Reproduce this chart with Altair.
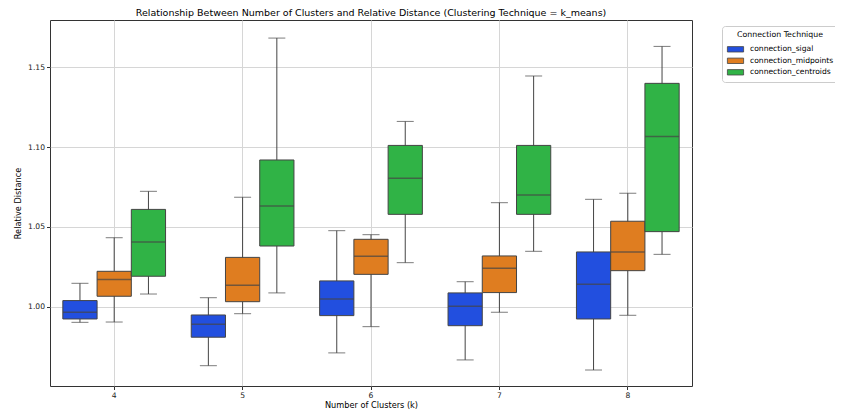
import altair as alt
import pandas as pd

clusters = [4, 5, 6, 7, 8]
techniques = ["connection_sigal", "connection_midpoints", "connection_centroids"]
colors = ["#224fdf", "#df7d20", "#30b346"]

sigal_min = [0.9904, 0.9633, 0.9713, 0.9669, 0.9606]
sigal_q1 = [0.9925, 0.9811, 0.9946, 0.9883, 0.9925]
sigal_med = [0.9967, 0.9892, 1.0050, 1.0004, 1.0142]
sigal_q3 = [1.0040, 0.9950, 1.0163, 1.0088, 1.0344]
sigal_max = [1.0148, 1.0058, 1.0477, 1.0158, 1.0673]

mid_min = [0.9906, 0.9958, 0.9877, 0.9967, 0.9948]
mid_q1 = [1.0067, 1.0033, 1.0204, 1.0090, 1.0227]
mid_med = [1.0171, 1.0136, 1.0317, 1.0242, 1.0344]
mid_q3 = [1.0223, 1.0310, 1.0423, 1.0319, 1.0536]
mid_max = [1.0433, 1.0686, 1.0452, 1.0652, 1.0711]

cen_min = [1.0081, 1.0088, 1.0277, 1.0348, 1.0329]
cen_q1 = [1.0192, 1.0381, 1.0579, 1.0579, 1.0471]
cen_med = [1.0406, 1.0631, 1.0804, 1.0700, 1.1065]
cen_q3 = [1.0610, 1.0919, 1.1010, 1.1010, 1.1398]
cen_max = [1.0723, 1.1681, 1.1160, 1.1444, 1.1629]

stats = {
    "connection_sigal": (sigal_min, sigal_q1, sigal_med, sigal_q3, sigal_max),
    "connection_midpoints": (mid_min, mid_q1, mid_med, mid_q3, mid_max),
    "connection_centroids": (cen_min, cen_q1, cen_med, cen_q3, cen_max),
}

rows = []
for t in techniques:
    mn, q1, md, q3, mx = stats[t]
    for i, k in enumerate(clusters):
        rows.append({"k": str(k), "tech": t, "mn": mn[i], "q1": q1[i],
                     "med": md[i], "q3": q3[i], "mx": mx[i]})
df = pd.DataFrame(rows)

line_col = "#444444"

x = alt.X("k:N", title="Number of Clusters (k)", sort=[str(c) for c in clusters],
          scale=alt.Scale(paddingInner=0.2, paddingOuter=0.1),
          axis=alt.Axis(labelAngle=0, grid=True))
xo = alt.XOffset("tech:N", sort=techniques,
                 scale=alt.Scale(domain=techniques, paddingInner=0, paddingOuter=0))
ysc = alt.Scale(domain=[0.9506, 1.1794], nice=False, zero=False)
yaxis = alt.Axis(values=[1.0, 1.05, 1.10, 1.15], format=".2f", grid=True)

base = alt.Chart(df)

whisk = base.mark_rule(color=line_col, strokeWidth=1).encode(
    x=x, xOffset=xo,
    y=alt.Y("mn:Q", title="Relative Distance", scale=ysc, axis=yaxis),
    y2="mx:Q",
)
cap_lo = base.mark_tick(color=line_col, size=17, thickness=1).encode(
    x=x, xOffset=xo, y=alt.Y("mn:Q", scale=ysc))
cap_hi = base.mark_tick(color=line_col, size=17, thickness=1).encode(
    x=x, xOffset=xo, y=alt.Y("mx:Q", scale=ysc))
box = base.mark_bar(stroke=line_col, strokeWidth=1, opacity=1).encode(
    x=x, xOffset=xo,
    y=alt.Y("q1:Q", scale=ysc), y2="q3:Q",
    color=alt.Color("tech:N", sort=techniques,
                    scale=alt.Scale(domain=techniques, range=colors),
                    legend=alt.Legend(title="Connection Technique")),
)
median = base.mark_tick(color=line_col, size=34, thickness=1.5).encode(
    x=x, xOffset=xo, y=alt.Y("med:Q", scale=ysc))

chart = alt.layer(whisk, cap_lo, cap_hi, box, median).properties(
    width=642, height=366,
    padding={"left": 42, "top": 12, "right": 143, "bottom": 26},
    autosize=alt.AutoSizeParams(type="none"),
    title=alt.Title("Relationship Between Number of Clusters and Relative Distance (Clustering Technique = k_means)",
                    fontSize=9.5, fontWeight="normal", font="DejaVu Sans", color="#000", offset=3),
).configure_view(
    stroke="#333333", strokeWidth=1
).configure_axis(
    domain=False, gridColor="#d6d6d6", gridWidth=1,
    tickColor="#333333", tickSize=3.5, labelFont="DejaVu Sans", labelFontSize=7.6,
    labelColor="#222", titleFont="DejaVu Sans", titleFontSize=8.2, titleFontWeight="normal",
    titleColor="#000", labelPadding=2,
).configure_axisY(titlePadding=5).configure_axisX(titlePadding=2).configure_legend(
    orient="none", legendX=672, legendY=6,
    strokeColor="#cccccc", fillColor="#ffffff", padding=5, cornerRadius=3,
    titleFont="DejaVu Sans", titleFontSize=7.8, titleFontWeight="normal", titleColor="#000",
    titleAnchor="middle", titlePadding=4, labelFont="DejaVu Sans", labelFontSize=7.6, labelColor="#000",
    symbolType="M-1.35,-0.45H1.35V0.45H-1.35Z", symbolSize=144, symbolStrokeColor=line_col,
    symbolStrokeWidth=0.8, symbolOffset=2, rowPadding=0.5, labelLimit=200, labelOffset=8,
)

chart.save("out.html", embed_options={"renderer": "svg", "actions": False})
